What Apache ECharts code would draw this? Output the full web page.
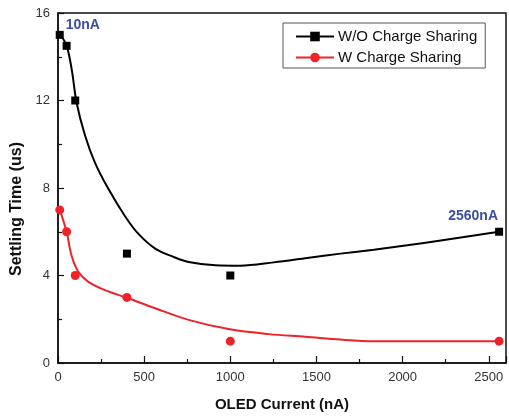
<!DOCTYPE html>
<html>
<head>
<meta charset="utf-8">
<script src="https://cdn.jsdelivr.net/npm/echarts@6/dist/echarts.min.js"></script>
<style>
html,body{margin:0;padding:0;background:#fff;}
#chart{width:509px;height:417px;}
</style>
</head>
<body>
<div id="chart"></div>
<script>
// measured points
var currents = [10, 50, 100, 400, 1000, 2560];
var woChargeSharing = [15, 14.5, 12, 5, 4, 6];
var wChargeSharing = [7, 6, 4, 3, 1, 1];

// fitted curves
var fitWoX = [10, 50, 80, 108, 157, 215, 293, 390, 467, 564, 670, 758, 913, 1058, 1252, 1446, 1640, 1833, 2027, 2221, 2415, 2560];
var fitWoY = [15.05, 14.5, 13.4, 11.9, 10.4, 9.15, 7.95, 6.7, 5.9, 5.23, 4.85, 4.62, 4.47, 4.45, 4.6, 4.8, 5.0, 5.18, 5.38, 5.6, 5.83, 6.0];
var fitWX = [10, 50, 79, 118, 176, 273, 400, 564, 758, 990, 1223, 1436, 1640, 1833, 2200, 2560];
var fitWY = [7.0, 6.0, 4.9, 4.17, 3.71, 3.33, 2.98, 2.5, 1.97, 1.55, 1.32, 1.2, 1.07, 1.0, 1.0, 1.0];

var seriesNames = ['W/O Charge Sharing', 'W Charge Sharing'];
var annotations = ['10nA', '2560nA'];
var xTitle = 'OLED Current (nA)';
var yTitle = 'Settling Time (us)';

function pairs(xs, ys) { return xs.map(function (x, i) { return [x, ys[i]]; }); }

var blue = '#3a4ea3';
var font = 'Liberation Sans, Arial, sans-serif';

var woPts = pairs(currents, woChargeSharing).map(function (p, i) {
  var d = { value: p };
  if (i === 0) {
    d.label = { show: true, formatter: annotations[0], position: 'right', distance: 2, offset: [0, -10],
      color: blue, fontWeight: 'bold', fontSize: 14, fontFamily: font };
  }
  if (i === currents.length - 1) {
    d.label = { show: true, formatter: annotations[1], position: 'top', distance: 5, offset: [-26, 0],
      color: blue, fontWeight: 'bold', fontSize: 14, fontFamily: font };
  }
  return d;
});

var chart = echarts.init(document.getElementById('chart'), null, { renderer: 'canvas' });
chart.setOption({
  animation: false,
  backgroundColor: '#fff',
  textStyle: { fontFamily: font },
  grid: { left: 58, right: 3, top: 13, bottom: 52, show: true, borderColor: '#111', borderWidth: 1.5, backgroundColor: 'transparent' },
  legend: {
    orient: 'vertical', left: 283, top: 23,
    data: seriesNames,
    itemWidth: 38, itemHeight: 12, itemGap: 6,
    borderColor: '#555', borderWidth: 1, borderRadius: 0,
    padding: [6, 8, 3, 12],
    textStyle: { fontSize: 15, color: '#111', fontFamily: font, padding: [0, 0, 0, -1] }
  },
  xAxis: {
    type: 'value', min: 0, max: 2600, interval: 500,
    name: xTitle, nameLocation: 'middle', nameGap: 34,
    nameTextStyle: { fontSize: 15, fontWeight: 'bold', color: '#111', fontFamily: font },
    axisLine: { show: true, lineStyle: { color: '#111', width: 1.5 } },
    axisTick: { show: true, inside: true, length: 7, lineStyle: { color: '#111', width: 1.2 } },
    minorTick: { show: true, splitNumber: 2, length: 4, lineStyle: { color: '#111', width: 1.2 } },
    axisLabel: { fontSize: 13, color: '#333', margin: 8, fontFamily: font, showMaxLabel: false,
      formatter: function (v) { return String(v); } },
    splitLine: { show: false }
  },
  yAxis: {
    type: 'value', min: 0, max: 16, interval: 4,
    name: yTitle, nameLocation: 'middle', nameGap: 31,
    nameTextStyle: { fontSize: 16, fontWeight: 'bold', color: '#111', fontFamily: font, padding: [0, 42, 0, 0] },
    axisLine: { show: true, lineStyle: { color: '#111', width: 1.5 } },
    axisTick: { show: true, inside: true, length: 6, lineStyle: { color: '#111', width: 1.2 } },
    minorTick: { show: true, splitNumber: 2, length: 4, lineStyle: { color: '#111', width: 1.2 } },
    axisLabel: { fontSize: 13, color: '#333', margin: 8, fontFamily: font },
    splitLine: { show: false }
  },
  series: [
    {
      name: seriesNames[0], type: 'line', data: pairs(fitWoX, fitWoY),
      smooth: 0.35, showSymbol: false, symbol: 'rect', symbolSize: 8,
      lineStyle: { color: '#000', width: 2 }, itemStyle: { color: '#000' }, z: 2
    },
    {
      name: seriesNames[1], type: 'line', data: pairs(fitWX, fitWY),
      smooth: 0.35, showSymbol: false, symbol: 'circle', symbolSize: 8,
      lineStyle: { color: '#ee2228', width: 2 }, itemStyle: { color: '#ee2228' }, z: 2
    },
    {
      name: 'pts-wo', type: 'scatter', data: woPts, symbol: 'rect', symbolSize: 8,
      itemStyle: { color: '#000', opacity: 1 }, z: 3
    },
    {
      name: 'pts-w', type: 'scatter', data: pairs(currents, wChargeSharing), symbol: 'circle', symbolSize: 9,
      itemStyle: { color: '#ee2228', opacity: 1 }, z: 3
    }
  ]
});
</script>
</body>
</html>
